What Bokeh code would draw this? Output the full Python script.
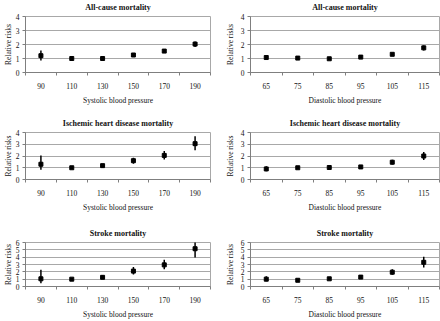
from bokeh.plotting import figure
from bokeh.layouts import column, row
from bokeh.models import Range1d, FixedTicker, ColumnDataSource, Title
from bokeh.embed import file_html
from bokeh.resources import INLINE

# ---------------- data ----------------
sys_cats = ["90", "110", "130", "150", "170", "190"]
dia_cats = ["65", "75", "85", "95", "105", "115"]

allcause_sys = [1.20, 1.00, 1.00, 1.25, 1.53, 2.03]
allcause_sys_lo = [0.85, 0.96, 0.96, 1.18, 1.45, 1.82]
allcause_sys_hi = [1.58, 1.04, 1.04, 1.32, 1.62, 2.22]

allcause_dia = [1.07, 1.03, 0.98, 1.10, 1.30, 1.76]
allcause_dia_lo = [1.00, 0.98, 0.93, 1.04, 1.24, 1.58]
allcause_dia_hi = [1.14, 1.08, 1.03, 1.16, 1.37, 1.93]

ihd_sys = [1.30, 1.00, 1.18, 1.60, 2.05, 3.05]
ihd_sys_lo = [0.82, 0.95, 0.98, 1.35, 1.70, 2.48]
ihd_sys_hi = [2.05, 1.05, 1.30, 1.85, 2.42, 3.68]

ihd_dia = [0.90, 1.00, 1.02, 1.07, 1.47, 2.00]
ihd_dia_lo = [0.70, 0.93, 0.95, 1.00, 1.27, 1.65]
ihd_dia_hi = [1.12, 1.07, 1.10, 1.15, 1.68, 2.35]

stroke_sys = [1.05, 1.00, 1.25, 2.10, 2.95, 5.15]
stroke_sys_lo = [0.45, 0.92, 1.02, 1.65, 2.35, 3.95]
stroke_sys_hi = [2.30, 1.10, 1.55, 2.65, 3.65, 6.20]

stroke_dia = [1.00, 0.85, 1.05, 1.28, 1.95, 3.30]
stroke_dia_lo = [0.70, 0.75, 0.95, 1.08, 1.60, 2.60]
stroke_dia_hi = [1.40, 0.95, 1.15, 1.50, 2.35, 4.05]

titles = ["All-cause mortality", "Ischemic heart disease mortality", "Stroke mortality"]
x_titles = ["Systolic blood pressure", "Diastolic blood pressure"]
y_title = "Relative risks"
y_max = [4, 4, 6]

FONT = "Liberation Serif"
GRID = "#a8a8a8"
AXIS = "#7f7f7f"
TEXT = "#111111"

# row geometry: (min_border_top, frame_height, min_border_bottom, spacer standoff)
row_geom = [(16, 60, 31, 1), (25, 50, 32, 1), (28, 51, 28, 1)]
# column geometry: (min_border_left, frame_width, min_border_right, ylabel_standoff)
col_geom = [(21, 189, 10, 0), (30, 189, 1, 3)]


def make_panel(r, c, cats, vals, lo, hi):
    top, fh, bot, sp_sd = row_geom[r]
    left, fw, right, ylab_sd = col_geom[c]
    n = len(cats)
    xs = list(range(1, n + 1))
    p = figure(width=left + fw + right, height=top + fh + bot,
               x_range=Range1d(0.5, n + 0.5), y_range=Range1d(0, y_max[r]),
               output_backend="svg", toolbar_location=None,
               min_border_left=left, min_border_right=right,
               min_border_top=top, min_border_bottom=bot)
    p.title = None
    p.background_fill_color = "white"
    p.border_fill_color = "white"
    p.outline_line_color = GRID
    p.outline_line_width = 1

    # thin empty spacer between the frame and the title, then the title itself
    p.add_layout(Title(text=" ", text_font=FONT, text_font_size="2px",
                       standoff=sp_sd), "above")
    p.add_layout(Title(text=titles[r], text_font=FONT, text_font_style="bold",
                       text_font_size="8px", align="center", offset=-12,
                       standoff=0, text_color=TEXT), "above")

    p.xgrid.visible = False
    p.ygrid.grid_line_color = GRID
    p.ygrid.grid_line_width = 1

    xa = p.xaxis[0]
    xa.ticker = FixedTicker(ticks=xs, minor_ticks=[x - 0.5 for x in xs] + [n + 0.5])
    xa.major_label_overrides = {x: cat for x, cat in zip(xs, cats)}
    xa.major_tick_line_color = None
    xa.major_tick_out = 0
    xa.major_tick_in = 0
    xa.minor_tick_line_color = AXIS
    xa.minor_tick_out = 3
    xa.minor_tick_in = 0
    xa.axis_line_color = AXIS
    xa.major_label_standoff = 7
    xa.major_label_text_font = FONT
    xa.major_label_text_font_size = "7.5px"
    xa.major_label_text_color = TEXT
    xa.axis_label = x_titles[c]
    xa.axis_label_text_font = FONT
    xa.axis_label_text_font_style = "normal"
    xa.axis_label_text_font_size = "7.5px"
    xa.axis_label_text_color = TEXT
    xa.axis_label_standoff = 4

    ya = p.yaxis[0]
    ya.ticker = FixedTicker(ticks=list(range(0, y_max[r] + 1)), minor_ticks=[])
    ya.major_tick_line_color = AXIS
    ya.major_tick_out = 3
    ya.major_tick_in = 0
    ya.minor_tick_line_color = None
    ya.axis_line_color = AXIS
    ya.major_label_standoff = 3
    ya.major_label_text_font = FONT
    ya.major_label_text_font_size = "7.5px"
    ya.major_label_text_color = TEXT
    ya.axis_label = y_title
    ya.axis_label_text_font = FONT
    ya.axis_label_text_font_style = "normal"
    ya.axis_label_text_font_size = "7.5px"
    ya.axis_label_text_color = TEXT
    ya.axis_label_standoff = ylab_sd

    src = ColumnDataSource(dict(x=xs, y=vals, lo=lo, hi=hi))
    p.segment(x0="x", y0="lo", x1="x", y1="hi", source=src,
              line_color="black", line_width=1.5)
    p.scatter(x="x", y="y", source=src, marker="square", size=4,
              fill_color="black", line_color="black")
    return p


panels = [
    [make_panel(0, 0, sys_cats, allcause_sys, allcause_sys_lo, allcause_sys_hi),
     make_panel(0, 1, dia_cats, allcause_dia, allcause_dia_lo, allcause_dia_hi)],
    [make_panel(1, 0, sys_cats, ihd_sys, ihd_sys_lo, ihd_sys_hi),
     make_panel(1, 1, dia_cats, ihd_dia, ihd_dia_lo, ihd_dia_hi)],
    [make_panel(2, 0, sys_cats, stroke_sys, stroke_sys_lo, stroke_sys_hi),
     make_panel(2, 1, dia_cats, stroke_dia, stroke_dia_lo, stroke_dia_hi)],
]

layout = column(*[row(*r, spacing=0) for r in panels], spacing=0)

open("out.html", "w").write(file_html(layout, INLINE))
